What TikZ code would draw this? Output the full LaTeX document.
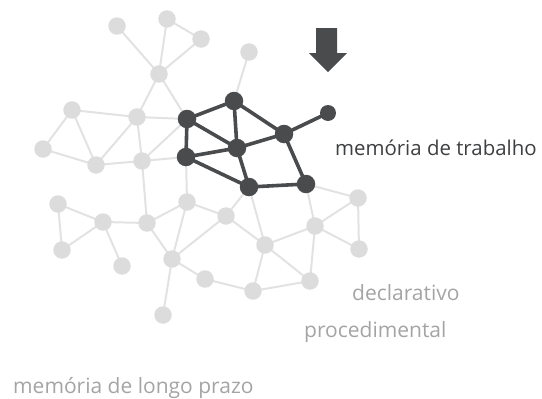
\documentclass[tikz,border=0pt]{standalone}
\usepackage{fontspec}
\setmainfont{Open Sans}
\definecolor{lnode}{HTML}{DCDCDC}
\definecolor{ledge}{HTML}{E2E2E2}
\definecolor{dnode}{HTML}{4A4B4D}
\definecolor{dtext}{HTML}{3E3F41}
\definecolor{ltext}{HTML}{A4A4A4}
\begin{document}
\begin{tikzpicture}[x=1pt,y=-1pt,
  lnd/.style={circle,fill=lnode,inner sep=0pt,minimum size=17.5pt},
  dnd/.style={circle,fill=dnode,inner sep=0pt,minimum size=18.5pt},
  sdnd/.style={circle,fill=dnode,inner sep=0pt,minimum size=16pt},
  ledg/.style={draw=ledge,line width=2pt},
  dedg/.style={draw=dnode,line width=3.6pt},
  dlabel/.style={anchor=base west,inner sep=0pt,text=dtext,font=\fontsize{20.4}{23}\selectfont},
  llabel/.style={anchor=base west,inner sep=0pt,text=ltext,font=\fontsize{21}{23}\selectfont}]
\useasboundingbox (0,0) rectangle (542,399);
% coordinates
\coordinate (A1) at (117,26);
\coordinate (A2) at (167,19);
\coordinate (A3) at (201,39);
\coordinate (A4) at (159,74);
\coordinate (A5) at (249,52);
\coordinate (B1) at (72,110);
\coordinate (B2) at (137,117);
\coordinate (B3) at (43,149);
\coordinate (B4) at (96,165);
\coordinate (B5) at (142,161);
\coordinate (C1) at (58,204);
\coordinate (C2) at (103,222);
\coordinate (C3) at (62,250);
\coordinate (C4) at (122,266);
\coordinate (C5) at (147,223);
\coordinate (C6) at (187,202);
\coordinate (C7) at (226,216);
\coordinate (C8) at (172,259);
\coordinate (C9) at (205,279);
\coordinate (C10) at (163,315);
\coordinate (C11) at (253,291);
\coordinate (C12) at (265,245);
\coordinate (E1) at (315,226);
\coordinate (E2) at (358,198);
\coordinate (E3) at (359,249);
\coordinate (E4) at (310,281);
\coordinate (D1) at (187,119);
\coordinate (D2) at (234,101);
\coordinate (D3) at (237,148);
\coordinate (D4) at (186,157);
\coordinate (D5) at (249,187);
\coordinate (D6) at (284,134);
\coordinate (D7) at (328,113);
\coordinate (D8) at (306,184);
% light edges
\foreach \a/\b in {A1/A4,A2/A4,A2/A3,A3/A4,A4/B2,A4/D1,A5/D2,
  B1/B2,B1/B3,B1/B4,B3/B4,B2/D1,B2/B5,B2/B4,B5/D1,B5/D4,B5/B4,B5/C5,
  D4/C6,C1/C2,C1/C3,C2/C3,C2/C4,C2/C5,C5/C8,C5/C6,C6/C8,C6/C7,
  C7/D5,C7/C8,C7/C12,D5/C12,C8/C9,C8/C10,C9/C11,C11/C12,C12/E1,C12/E4,
  E1/E4,E1/D8,E1/E2,E1/E3,E2/E3,D8/E2,C11/E4}
  \path[ledg] (\a) -- (\b);
% light nodes
\foreach \n in {A1,A2,A3,A4,A5,B1,B2,B3,B4,B5,C1,C2,C3,C4,C5,C6,C7,C8,C9,C10,C11,C12,E1,E2,E3,E4}
  \node[lnd] (n\n) at (\n) {};
% dark edges
\foreach \a/\b in {D1/D2,D1/D3,D1/D4,D2/D3,D2/D6,D3/D4,D3/D5,D3/D6,D4/D5,D5/D8,D6/D8,D6/D7}
  \path[dedg] (\a) -- (\b);
% dark nodes
\foreach \n in {D1,D2,D3,D4,D5,D6,D8}
  \node[dnd] (n\n) at (\n) {};
\node[sdnd] (nD7) at (D7) {};
% arrow
\fill[dnode] (316,28) -- (337,28) -- (337,53) -- (347,53) -- (328,72) -- (309,53) -- (316,53) -- cycle;
% labels
\node[dlabel] (trab) at (335,155) {memória de trabalho};
\node[llabel] (decl) at (352,300) {declarativo};
\node[llabel] (proc) at (304,337) {procedimental};
\node[llabel] (longo) at (13,393) {memória de longo prazo};
\end{tikzpicture}
\end{document}
